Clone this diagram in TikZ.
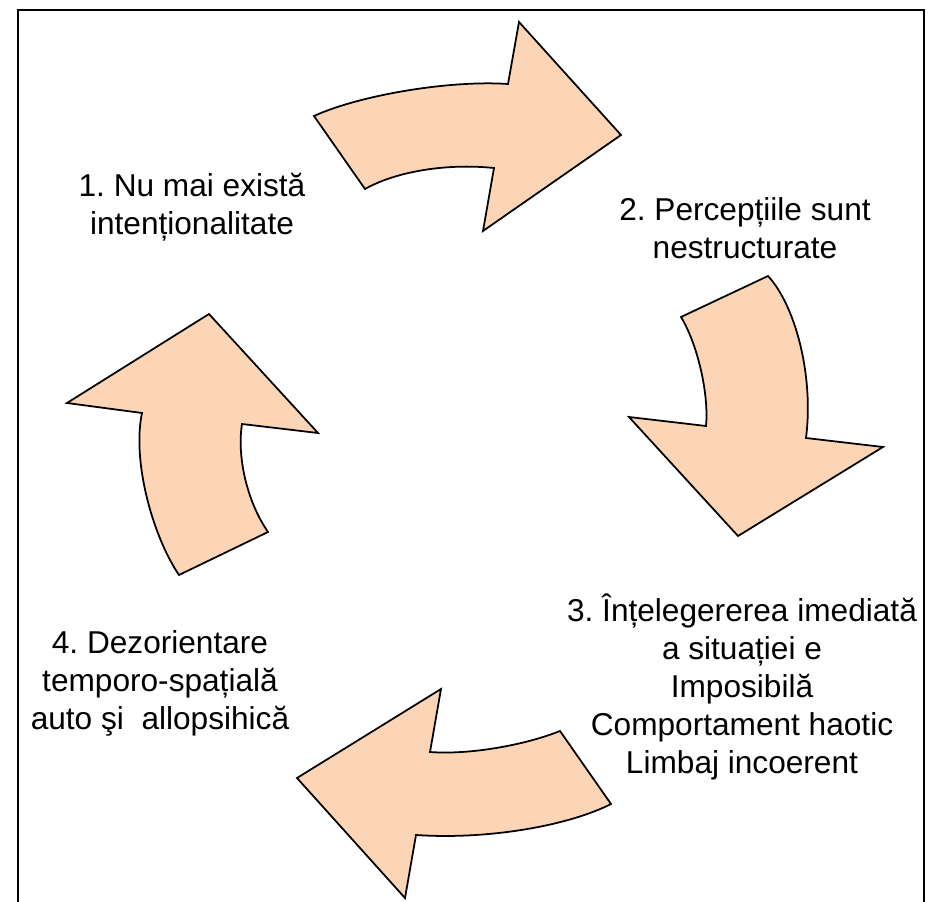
\documentclass[tikz,border=0pt]{standalone}
\usepackage{fontspec}
\setmainfont{Liberation Sans}
\frenchspacing
\definecolor{piersica}{RGB}{251,213,181}
\tikzset{
  sageata/.style={draw, line width=1pt, fill=piersica, line join=miter},
  eticheta/.style={align=center, font=\fontsize{18}{21.6}\selectfont, inner sep=0pt}
}

\begin{document}
\begin{tikzpicture}[x=0.02cm, y=-0.02cm]
  %tikz  ciclul confuziei
    \useasboundingbox (0,0) rectangle (930,902);
    \draw[line width=1.2pt] (18,902) -- (18,10) -- (924,10) -- (924,902);

    % sageata 1, spre dreapta
    \draw[sageata] (314,116) .. controls (360,95) and (450,80) .. (508,84)
      -- (519,22) -- (621,135) -- (483,231) -- (494,168)
      .. controls (445,163) and (395,172) .. (365,189) -- cycle;
    % sageata 2, in jos
    \draw[sageata] (768,276) .. controls (795,305) and (814,375) .. (806,438)
      -- (883,447) -- (738,536) -- (629,417) -- (706,426)
      .. controls (709,395) and (698,345) .. (681,317) -- cycle;
    % sageata 3, spre stanga
    \draw[sageata] (611,804) .. controls (570,825) and (490,840) .. (416,835)
      -- (405,898) -- (297,778) -- (441,689) -- (430,752)
      .. controls (470,755) and (525,745) .. (560,731) -- cycle;
    % sageata 4, in sus
    \draw[sageata] (179,575) .. controls (152,535) and (132,460) .. (142,413)
      -- (67,403) -- (209,314) -- (318,433) -- (242,424)
      .. controls (237,455) and (246,500) .. (268,532) -- cycle;

    \node[eticheta] (pas1) at (192,207) {1. Nu mai există\\intenționalitate};
    \node[eticheta] (pas2) at (745,228) {2. Percepțiile sunt\\nestructurate};
    \node[eticheta] (pas3) at (742,687) {3. Înțelegererea imediată\\a situației e\\Imposibilă\\Comportament haotic\\Limbaj incoerent};
    \node[eticheta] (pas4) at (160,683) {4. Dezorientare\\temporo-spațială\\auto şi~ allopsihică};
\end{tikzpicture}
\end{document}
